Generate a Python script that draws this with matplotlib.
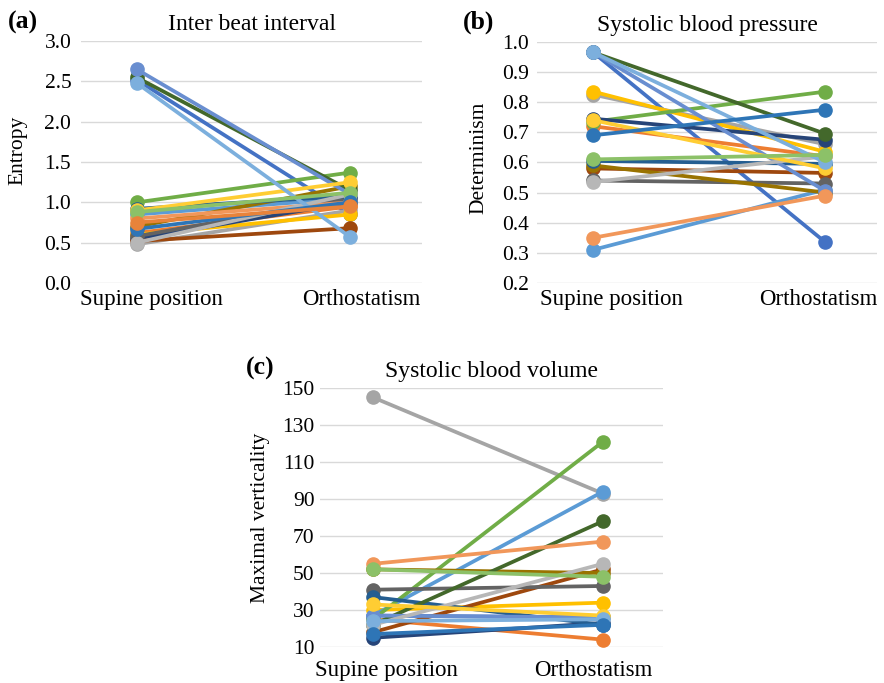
import matplotlib
matplotlib.use("Agg")
import matplotlib.pyplot as plt
from matplotlib.transforms import ScaledTranslation

plt.rcParams['font.family'] = ['Liberation Serif', 'DejaVu Serif']

# excel-like palette, one colour per subject
COLORS = ["#4472C4", "#ED7D31", "#A5A5A5", "#FFC000", "#5B9BD5", "#70AD47",
          "#264478", "#9E480E", "#636363", "#997300", "#255E91", "#43682B",
          "#698ED0", "#F1975A", "#B7B7B7", "#FFCD33", "#7CAFDD", "#8CC168",
          "#2E75B6", "#E8833A"]

CATEGORIES = ["Supine position", "Orthostatism"]

# (a) inter beat interval, entropy
ibi_supine = [2.52, 0.62, 0.48, 0.60, 0.85, 1.00, 0.55, 0.52, 0.58, 0.70,
              0.92, 2.55, 2.65, 0.80, 0.50, 0.90, 2.48, 0.88, 0.67, 0.75]
ibi_ortho = [0.85, 0.95, 0.90, 0.85, 1.05, 1.37, 1.00, 0.68, 1.05, 1.20,
             1.08, 1.15, 1.10, 1.00, 1.10, 1.25, 0.57, 1.12, 1.00, 0.95]
ibi_ticks = [0.0, 0.5, 1.0, 1.5, 2.0, 2.5, 3.0]

# (b) systolic blood pressure, determinism
sbp_supine = [0.965, 0.72, 0.825, 0.835, 0.31, 0.735, 0.745, 0.58, 0.54, 0.59,
              0.605, 0.965, 0.965, 0.35, 0.535, 0.74, 0.965, 0.61, 0.69]
sbp_ortho = [0.335, 0.62, 0.66, 0.635, 0.51, 0.835, 0.675, 0.565, 0.53, 0.50,
             0.595, 0.695, 0.505, 0.49, 0.62, 0.58, 0.60, 0.625, 0.775]
sbp_ticks = [0.2, 0.3, 0.4, 0.5, 0.6, 0.7, 0.8, 0.9, 1.0]

# (c) systolic blood volume, maximal verticality
sbv_supine = [27, 25, 145, 30, 27, 25, 15, 18, 41, 52, 37, 22, 27, 55, 22,
              33, 24, 52, 17]
sbv_ortho = [26, 14, 93, 34, 94, 121, 23, 52, 43, 50, 22, 78, 26, 67, 55,
             27, 25, 48, 22]
sbv_ticks = [10, 30, 50, 70, 90, 110, 130, 150]


def draw_panel(fig, ax, supine, ortho, title, ylabel, yticks, fmt, xlim,
               label_x, label_y, ypad, xpad, shifts):
    for i, (s, o) in enumerate(zip(supine, ortho)):
        ax.plot([0, 1], [s, o], color=COLORS[i % len(COLORS)], lw=2.7,
                marker='o', markersize=9.5, solid_capstyle='round')
    ax.set_xlim(*xlim)
    ax.set_ylim(yticks[0], yticks[-1])
    ax.set_yticks(yticks)
    ax.set_yticklabels([fmt % t for t in yticks])
    ax.set_xticks([0, 1])
    ax.set_xticklabels(CATEGORIES)
    ax.grid(axis='y', color='#D9D9D9', lw=1)
    ax.set_axisbelow(True)
    for sp in ax.spines.values():
        sp.set_visible(False)
    ax.tick_params(length=0)
    ax.tick_params(axis='y', pad=ypad, labelsize=15.5)
    ax.tick_params(axis='x', pad=xpad, labelsize=16.5)
    # category labels sit a little off the markers, as in the original
    for lab, dx in zip(ax.get_xticklabels(), shifts):
        lab.set_transform(lab.get_transform() +
                          ScaledTranslation(dx / 100, 0, fig.dpi_scale_trans))
    ax.set_title(title, fontsize=17, pad=8)
    ax.set_ylabel(ylabel, fontsize=15.5)
    ax.yaxis.set_label_coords(label_x, label_y)


fig = plt.figure(figsize=(8.84, 6.83), dpi=100)

ax_a = fig.add_axes([0.0916, 0.5857, 0.386, 0.354])
draw_panel(fig, ax_a, ibi_supine, ibi_ortho, "Inter beat interval", "Entropy",
           ibi_ticks, '%.1f', (-0.262, 1.338), -0.158, 0.55, 7, 4, (15, 11))

ax_b = fig.add_axes([0.6075, 0.5857, 0.385, 0.353])
draw_panel(fig, ax_b, sbp_supine, sbp_ortho, "Systolic blood pressure",
           "Determinism", sbp_ticks, '%.1f', (-0.242, 1.224), -0.144, 0.52,
           6, 4, (18, -7))

ax_c = fig.add_axes([0.362, 0.0527, 0.388, 0.379])
draw_panel(fig, ax_c, sbv_supine, sbv_ortho, "Systolic blood volume",
           "Maximal verticality", sbv_ticks, '%d', (-0.231, 1.262),
           -0.146, 0.5, 4, 9, (13, -9))

fig.text(8 / 884, 1 - 22 / 683, "(a)", fontsize=18.5, fontweight='bold',
         va='center')
fig.text(463 / 884, 1 - 22 / 683, "(b)", fontsize=18.5, fontweight='bold',
         va='center')
fig.text(246 / 884, 1 - 368 / 683, "(c)", fontsize=18.5, fontweight='bold',
         va='center')

fig.savefig("out.png", dpi=100)
